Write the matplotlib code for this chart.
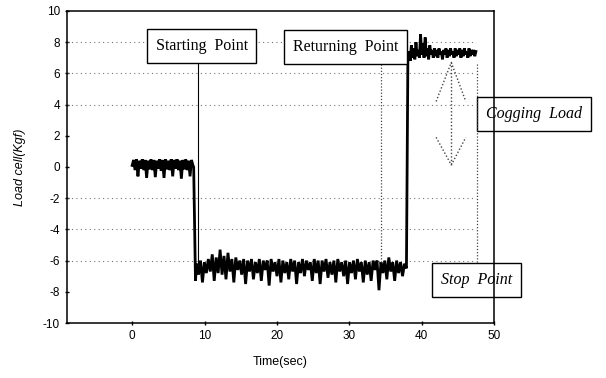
import numpy as np
import matplotlib
matplotlib.use("Agg")
import matplotlib.pyplot as plt

plt.rcParams['axes.unicode_minus'] = False

# load cell trace
seg_start = [0.1, 0.45, -0.2, 0.5, -0.6, 0.4, -0.1, 0.5, -0.2, 0.45, -0.7, 0.4, -0.15, 0.5,
             -0.2, 0.45, -0.65, 0.4, -0.1, 0.5, -0.25, 0.45, -0.7, 0.5, -0.15, 0.4, -0.2, 0.5,
             -0.6, 0.45, -0.1, 0.5, -0.2, 0.4, -0.75, 0.45, -0.15, 0.5, -0.2, 0.4, -0.6, 0.45, 0.1]
drop_t = [8.5, 8.6, 8.75]
drop_v = [0.0, -3.0, -7.3]
seg_run = [-6.2, -6.9, -6.0, -7.4, -6.1, -6.8, -5.9,
           -6.7, -5.6, -7.3, -5.8, -6.8, -5.3, -6.9, -5.7,
           -7.2, -5.5, -6.7, -5.9, -7.4, -5.8, -6.6, -6.0,
           -6.9, -5.9, -7.5, -6.0, -6.7, -5.9, -7.2, -6.1,
           -6.8, -5.9, -7.3, -6.0, -6.6, -6.0, -7.6, -5.9,
           -6.7, -6.1, -7.0, -5.9, -7.4, -6.0, -6.8, -6.1,
           -7.2, -5.9, -6.7, -6.0, -7.5, -6.1, -6.8, -5.9,
           -7.0, -6.0, -6.6, -6.1, -7.3, -5.9, -6.8, -6.0,
           -7.5, -6.0, -6.7, -5.9, -7.1, -6.1, -6.9, -6.0,
           -7.4, -5.9, -6.7, -6.1, -7.0, -6.0, -7.5, -6.1,
           -6.8, -6.0, -7.2, -5.9, -6.7, -6.1, -7.4, -6.0,
           -6.9, -6.1, -7.3, -6.0, -6.6, -6.0, -7.9, -6.1,
           -6.8, -6.0, -7.2, -5.8, -6.7, -6.1, -7.3, -6.0,
           -6.8, -6.1, -7.0, -6.2, -6.5]
seg_return = [7.0, 7.4, 6.8, 7.8, 7.0, 7.6, 6.9, 8.0, 7.1, 7.5, 7.0, 8.5, 7.2, 7.9, 7.0, 8.3,
              7.1, 7.6, 6.9, 7.8, 7.2, 7.5, 7.0, 7.6, 7.1, 7.5, 7.0, 7.6, 7.2, 7.4, 6.9, 7.5,
              7.2, 7.6, 7.0, 7.5, 7.1, 7.6, 7.2, 7.4, 7.0, 7.6, 7.1, 7.5, 7.2, 7.6, 7.0, 7.5,
              7.1, 7.6, 7.2, 7.4, 7.0, 7.6, 7.1, 7.5, 7.2, 7.5, 7.1, 7.4]

t_start = np.linspace(0, 8.4, len(seg_start))
t_run = np.linspace(8.9, 37.9, len(seg_run))
t_return = np.linspace(38.1, 47.5, len(seg_return))
t = np.concatenate([t_start, drop_t, t_run, t_return])
v = np.concatenate([seg_start, drop_v, seg_run, seg_return])

grid_levels = [8, 6, 4, -2, -4, -6]

fig = plt.figure(figsize=(6.06, 3.78), dpi=100)
ax = fig.add_axes([0.1106, 0.1455, 0.7046, 0.8255])

ax.hlines(grid_levels, -9, 47.5, colors='#777777', linestyles=(0, (1, 3)), linewidth=0.8)
ax.plot(t, v, color='black', linewidth=2.0, solid_joinstyle='miter')

# annotation leader lines
ax.plot([9.1, 9.1], [6.6, -6.2], color='black', linewidth=0.8)
ax.plot([34.4, 34.4], [6.6, -6.1], color='#444444', linewidth=0.9, linestyle=(0, (1, 1.5)))
ax.plot([47.6, 47.6], [6.6, -6.15], color='#444444', linewidth=0.9, linestyle=(0, (1, 1.5)))

# cogging load double arrow (dotted)
dot = dict(color='#444444', linewidth=1.0, linestyle=(0, (1, 1.5)))
ax.plot([44.1, 44.1], [6.7, 0.13], **dot)
ax.plot([42.0, 44.1, 46.1], [4.2, 6.7, 4.2], **dot)
ax.plot([42.0, 44.1, 46.1], [1.9, 0.13, 1.9], **dot)

box = dict(boxstyle='square,pad=0.55', facecolor='white', edgecolor='black', linewidth=1.0)
box_clear = dict(boxstyle='square,pad=0.55', facecolor='none', edgecolor='black', linewidth=1.0)
ax.text(9.6, 7.75, 'Starting  Point', family='Liberation Serif', fontsize=11.5,
        ha='center', va='center', bbox=box, clip_on=False)
ax.text(29.5, 7.7, 'Returning  Point', family='Liberation Serif', fontsize=11.5,
        ha='center', va='center', bbox=box, clip_on=False)
ax.text(55.5, 3.4, 'Cogging  Load', family='Liberation Serif', fontsize=11.5, style='italic',
        ha='center', va='center', bbox=box_clear, clip_on=False, zorder=1)
ax.text(47.6, -7.25, 'Stop  Point', family='Liberation Serif', fontsize=11.5, style='italic',
        ha='center', va='center', bbox=box_clear, clip_on=False, zorder=1)

ax.set_xlim(-9, 50)
ax.set_ylim(-10, 10)
ax.set_xticks([0, 10, 20, 30, 40, 50])
ax.set_yticks(np.arange(-10, 11, 2))
ax.tick_params(labelsize=8.5, length=3, width=1, direction='inout')
for lab in ax.get_xticklabels() + ax.get_yticklabels():
    lab.set_family('Liberation Sans')
for s in ax.spines.values():
    s.set_linewidth(1.1)
    s.set_zorder(5)

ax.set_xlabel('Time(sec)', family='Liberation Sans', fontsize=9, labelpad=10)
ax.set_ylabel('Load cell(Kgf)', family='Liberation Sans', fontsize=9, style='italic', labelpad=12)

fig.savefig('out.png', dpi=100)
